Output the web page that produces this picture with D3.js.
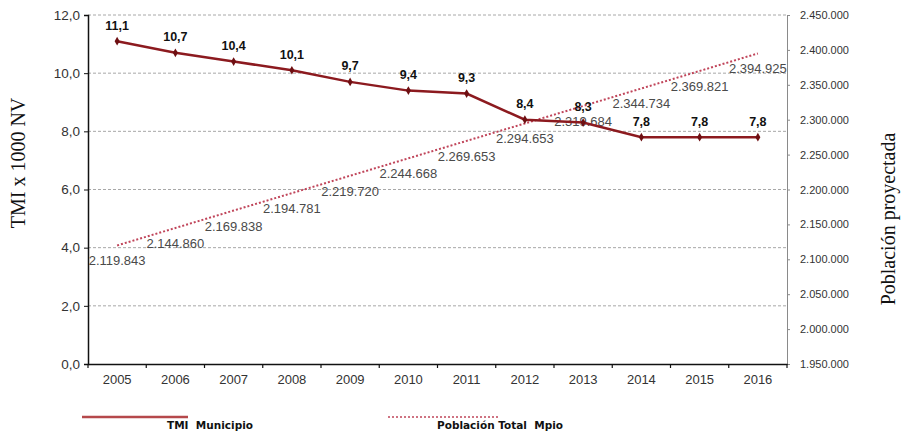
<!DOCTYPE html>
<html>
<head>
<meta charset="utf-8">
<script src="https://cdn.jsdelivr.net/npm/d3@7/dist/d3.min.js"></script>
<style>
  html, body { margin: 0; padding: 0; background: #fff; }
  svg { display: block; font-family: "Liberation Sans", Arial, sans-serif; }
  .serif { font-family: "Liberation Serif", "Times New Roman", serif; }
  .legend-text { font-family: "DejaVu Sans", Verdana, sans-serif; white-space: pre; }
</style>
</head>
<body>
<svg id="chart" width="901" height="433"></svg>
<script>
// Años del periodo
const years = ["2005","2006","2007","2008","2009","2010","2011","2012","2013","2014","2015","2016"];
// Tasa de mortalidad infantil (x 1000 nacidos vivos)
const tmi = [11.1, 10.7, 10.4, 10.1, 9.7, 9.4, 9.3, 8.4, 8.3, 7.8, 7.8, 7.8];
// Población total proyectada del municipio
const poblacion = [2119843, 2144860, 2169838, 2194781, 2219720, 2244668, 2269653, 2294653, 2319684, 2344734, 2369821, 2394925];
// Marcas de los ejes
const tmiTicks = [0, 2, 4, 6, 8, 10, 12];
const pobTicks = [1950000, 2000000, 2050000, 2100000, 2150000, 2200000, 2250000, 2300000, 2350000, 2400000, 2450000];

const svg = d3.select("#chart");
const plotL = 88, plotR = 787, plotT = 15, plotB = 364;

const x = d3.scaleBand().domain(years).range([plotL, plotR]).padding(0);
const y = d3.scaleLinear().domain([0, 12]).range([plotB, plotT]);
const y2 = d3.scaleLinear().domain([1950000, 2450000]).range([plotB, plotT]);
const cx = d => x(d) + x.bandwidth() / 2;

const fmtTmi = d => d3.format(".1f")(d).replace(".", ",");
const fmtPob = d => d3.format(",")(d).replace(/,/g, ".");

// Líneas de cuadrícula horizontales
svg.append("g")
  .selectAll("line")
  .data(tmiTicks.filter(d => d > 0))
  .join("line")
  .attr("x1", plotL).attr("x2", plotR)
  .attr("y1", d => y(d)).attr("y2", d => y(d))
  .attr("stroke", "#a8a8a8")
  .attr("stroke-width", 1)
  .attr("stroke-dasharray", "3,2");

// Eje izquierdo
const gL = svg.append("g")
  .attr("transform", `translate(${plotL},0)`)
  .call(d3.axisLeft(y).tickValues(tmiTicks).tickFormat(fmtTmi).tickSize(4).tickPadding(4));
gL.attr("font-family", null);
gL.select(".domain").attr("stroke", "#111").attr("stroke-width", 1.5);
gL.selectAll(".tick line").attr("stroke", "#111");
gL.selectAll("text").attr("font-size", 13.5).attr("fill", "#333");

// Eje derecho
const gR = svg.append("g")
  .attr("transform", `translate(${plotR},0)`)
  .call(d3.axisRight(y2).tickValues(pobTicks).tickFormat(fmtPob).tickSize(3).tickPadding(10));
gR.attr("font-family", null);
gR.select(".domain").attr("stroke", "#8a8a8a");
gR.selectAll(".tick line").attr("stroke", "#8a8a8a");
gR.selectAll("text").attr("font-size", 11).attr("fill", "#333");

// Eje inferior
const gB = svg.append("g")
  .attr("transform", `translate(0,${plotB})`)
  .call(d3.axisBottom(x).tickSize(0).tickPadding(11));
gB.attr("font-family", null);
gB.select(".domain").attr("stroke", "#111").attr("stroke-width", 1.5);
gB.selectAll("text").attr("font-size", 13).attr("fill", "#333");
// Marcas entre categorías
const bounds = years.map(d => x(d)).concat([plotR]);
gB.append("g").selectAll("line")
  .data(bounds)
  .join("line")
  .attr("x1", d => d).attr("x2", d => d)
  .attr("y1", 0).attr("y2", 4)
  .attr("stroke", "#111").attr("stroke-width", 1.2);

// Serie de población (línea punteada)
const linePob = d3.line().x((d, i) => cx(years[i])).y(d => y2(d));
svg.append("path")
  .datum(poblacion)
  .attr("d", linePob)
  .attr("fill", "none")
  .attr("stroke", "#c0455a")
  .attr("stroke-width", 2)
  .attr("stroke-dasharray", "2,2");

// Etiquetas de población
svg.append("g").selectAll("text")
  .data(poblacion)
  .join("text")
  .attr("x", (d, i) => cx(years[i]))
  .attr("y", d => y2(d) + 20)
  .attr("text-anchor", "middle")
  .attr("font-size", 13)
  .attr("fill", "#4a4a4a")
  .text(fmtPob);

// Serie TMI
const lineTmi = d3.line().x((d, i) => cx(years[i])).y(d => y(d));
svg.append("path")
  .datum(tmi)
  .attr("d", lineTmi)
  .attr("fill", "none")
  .attr("stroke", "#8c1a1f")
  .attr("stroke-width", 2.5);

svg.append("g").selectAll("path")
  .data(tmi)
  .join("path")
  .attr("transform", (d, i) => `translate(${cx(years[i])},${y(d)})`)
  .attr("d", d3.symbol(d3.symbolDiamond, 22))
  .attr("fill", "#6e0f12");

// Etiquetas TMI
svg.append("g").selectAll("text")
  .data(tmi)
  .join("text")
  .attr("x", (d, i) => cx(years[i]))
  .attr("y", d => y(d) - 11.5)
  .attr("text-anchor", "middle")
  .attr("font-size", 12.5)
  .attr("font-weight", "bold")
  .attr("fill", "#111")
  .text(fmtTmi);

// Títulos de los ejes
svg.append("text")
  .attr("class", "serif")
  .attr("transform", "translate(25,163) rotate(-90)")
  .attr("text-anchor", "middle")
  .attr("font-size", 20)
  .attr("fill", "#111")
  .text("TMI x 1000 NV");

svg.append("text")
  .attr("class", "serif")
  .attr("transform", "translate(895,219) rotate(-90)")
  .attr("text-anchor", "middle")
  .attr("font-size", 20)
  .attr("fill", "#111")
  .text("Población proyectada");

// Leyenda
const legend = svg.append("g");
legend.append("line")
  .attr("x1", 82).attr("x2", 188).attr("y1", 417).attr("y2", 417)
  .attr("stroke", "#b5484b").attr("stroke-width", 2.5);
legend.append("text")
  .attr("class", "legend-text")
  .attr("x", 167).attr("y", 429)
  .attr("font-size", 10.5).attr("font-weight", "bold").attr("fill", "#111")
  .text("TMI  Municipio");
legend.append("line")
  .attr("x1", 388).attr("x2", 500).attr("y1", 417).attr("y2", 417)
  .attr("stroke", "#c0455a").attr("stroke-width", 1.5).attr("stroke-dasharray", "2,2");
legend.append("text")
  .attr("class", "legend-text")
  .attr("x", 437).attr("y", 429)
  .attr("font-size", 10.5).attr("font-weight", "bold").attr("fill", "#111")
  .text("Población Total  Mpio");
</script>
</body>
</html>
